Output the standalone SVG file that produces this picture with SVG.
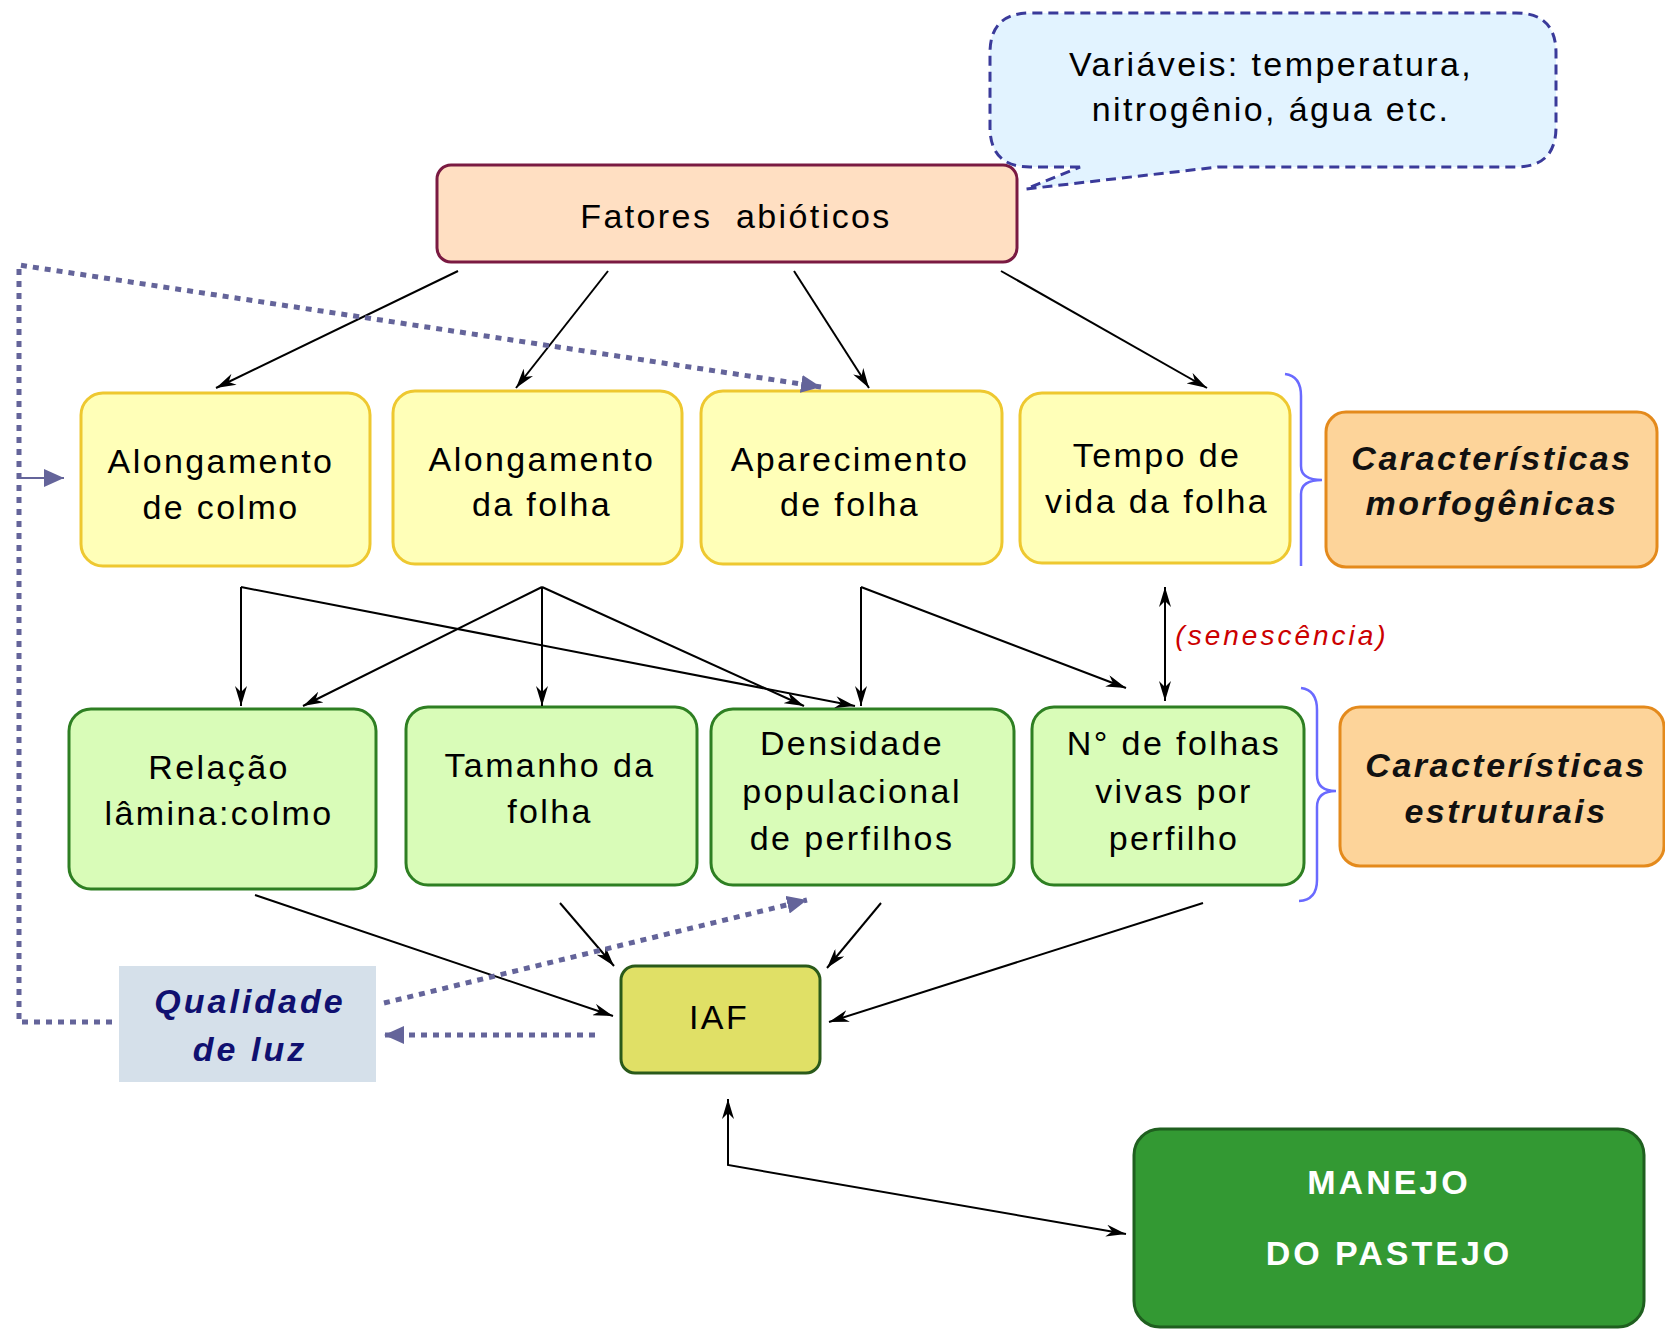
<svg xmlns="http://www.w3.org/2000/svg" width="1665" height="1332" viewBox="0 0 1665 1332">
<defs>
<style>
text{font-family:"Liberation Sans",Arial,sans-serif;text-anchor:middle;}
.t{font-size:34px;letter-spacing:2.4px;fill:#000;}
.bi{font-size:34px;font-weight:bold;font-style:italic;letter-spacing:2.5px;fill:#111;}
.q{font-size:34px;font-weight:bold;font-style:italic;letter-spacing:3px;fill:#101070;}
.m{font-size:34px;font-weight:bold;letter-spacing:3px;fill:#fff;}
.sen{font-size:28px;font-style:italic;letter-spacing:3px;fill:#cc0000;}
.yel{fill:#ffffb8;stroke:#eec830;stroke-width:3;}
.grn{fill:#d9fcb8;stroke:#2e7f22;stroke-width:3;}
.org{fill:#fdd49a;stroke:#e48a1c;stroke-width:3;}
.ln{stroke:#000;stroke-width:2;fill:none;}
.dot{stroke:#64649a;stroke-width:5;fill:none;stroke-dasharray:6 6;}
.brace{stroke:#6a6aff;stroke-width:2.5;fill:none;}
</style>
<marker id="ah" markerUnits="userSpaceOnUse" viewBox="0 0 20 12" markerWidth="20" markerHeight="12" refX="20" refY="6" orient="auto-start-reverse">
<path d="M0,0 L20,6 L0,12 L6,6 z" fill="#000"/>
</marker>
<marker id="dh" markerUnits="userSpaceOnUse" viewBox="0 0 20 18" markerWidth="20" markerHeight="18" refX="20" refY="9" orient="auto">
<path d="M0,0 L20,9 L0,18 z" fill="#64649a"/>
</marker>
</defs>
<rect width="1665" height="1332" fill="#fff"/>

<g id="callout">
<path d="M1080,167 L1030,167 Q990,167 990,127 L990,53 Q990,13 1030,13 L1516,13 Q1556,13 1556,53 L1556,127 Q1556,167 1516,167 L1218,167 L1026,189 Z" fill="#e2f3ff" stroke="#3a3a9a" stroke-width="3" stroke-dasharray="10 6"/>
<text class="t" x="1271" y="76">Variáveis: temperatura,</text>
<text class="t" x="1271" y="121">nitrogênio, água etc.</text>
</g>

<g id="fatores">
<rect x="437" y="165" width="580" height="97" rx="14" fill="#ffdfc2" stroke="#7a1a42" stroke-width="3"/>
<text class="t" x="736" y="228" xml:space="preserve">Fatores  abióticos</text>
</g>

<g id="alongamento-colmo">
<rect class="yel" x="81" y="393" width="289" height="173" rx="22"/>
<text class="t" x="221" y="473">Alongamento</text>
<text class="t" x="221" y="519">de colmo</text>
</g>
<g id="alongamento-folha">
<rect class="yel" x="393" y="391" width="289" height="173" rx="22"/>
<text class="t" x="542" y="471">Alongamento</text>
<text class="t" x="542" y="516">da folha</text>
</g>
<g id="aparecimento-folha">
<rect class="yel" x="701" y="391" width="301" height="173" rx="22"/>
<text class="t" x="850" y="471">Aparecimento</text>
<text class="t" x="850" y="516">de folha</text>
</g>
<g id="tempo-vida">
<rect class="yel" x="1020" y="393" width="270" height="170" rx="22"/>
<text class="t" x="1157" y="467">Tempo de</text>
<text class="t" x="1157" y="513">vida da folha</text>
</g>
<g id="morfogenicas">
<rect class="org" x="1326" y="412" width="331" height="155" rx="20"/>
<text class="bi" x="1492" y="470">Características</text>
<text class="bi" x="1492" y="515">morfogênicas</text>
</g>

<g id="relacao">
<rect class="grn" x="69" y="709" width="307" height="180" rx="22"/>
<text class="t" x="219" y="779">Relação</text>
<text class="t" x="219" y="825">lâmina:colmo</text>
</g>
<g id="tamanho">
<rect class="grn" x="406" y="707" width="291" height="178" rx="22"/>
<text class="t" x="550" y="777">Tamanho da</text>
<text class="t" x="550" y="823">folha</text>
</g>
<g id="densidade">
<rect class="grn" x="711" y="709" width="303" height="176" rx="22"/>
<text class="t" x="852" y="755">Densidade</text>
<text class="t" x="852" y="803">populacional</text>
<text class="t" x="852" y="850">de perfilhos</text>
</g>
<g id="nfolhas">
<rect class="grn" x="1032" y="707" width="272" height="178" rx="22"/>
<text class="t" x="1174" y="755">N° de folhas</text>
<text class="t" x="1174" y="803">vivas por</text>
<text class="t" x="1174" y="850">perfilho</text>
</g>
<g id="estruturais">
<rect class="org" x="1340" y="707" width="324" height="159" rx="20"/>
<text class="bi" x="1506" y="777">Características</text>
<text class="bi" x="1506" y="823">estruturais</text>
</g>

<g id="qualidade">
<rect x="119" y="966" width="257" height="116" fill="#d5e0ea"/>
<text class="q" x="250" y="1013">Qualidade</text>
<text class="q" x="250" y="1061">de luz</text>
</g>
<g id="iaf">
<rect x="621" y="966" width="199" height="107" rx="14" fill="#e0e066" stroke="#2a5a1a" stroke-width="3"/>
<text class="t" x="719" y="1029">IAF</text>
</g>
<g id="manejo">
<rect x="1134" y="1129" width="510" height="198" rx="26" fill="#339933" stroke="#1f5f1f" stroke-width="3"/>
<text class="m" x="1389" y="1194">MANEJO</text>
<text class="m" x="1389" y="1265">DO PASTEJO</text>
</g>

<g id="braces">
<path class="brace" d="M1285,374 Q1301,376 1301,396 L1301,466 Q1301,480 1322,480 Q1301,480 1301,494 L1301,566"/>
<path class="brace" d="M1301,688 Q1317,690 1317,710 L1317,775 Q1317,791 1336,791 Q1317,791 1317,807 L1317,880 Q1317,900 1299,901"/>
</g>

<g id="connectors">
<line class="ln" x1="458" y1="271" x2="216" y2="388" marker-end="url(#ah)"/>
<line class="ln" x1="608" y1="271" x2="516" y2="388" marker-end="url(#ah)"/>
<line class="ln" x1="794" y1="271" x2="869" y2="388" marker-end="url(#ah)"/>
<line class="ln" x1="1001" y1="271" x2="1207" y2="388" marker-end="url(#ah)"/>

<line class="ln" x1="241" y1="587" x2="241" y2="706" marker-end="url(#ah)"/>
<line class="ln" x1="241" y1="587" x2="855" y2="706" marker-end="url(#ah)"/>
<line class="ln" x1="542" y1="587" x2="303" y2="706" marker-end="url(#ah)"/>
<line class="ln" x1="542" y1="587" x2="542" y2="706" marker-end="url(#ah)"/>
<line class="ln" x1="542" y1="587" x2="804" y2="706" marker-end="url(#ah)"/>
<line class="ln" x1="861" y1="587" x2="861" y2="706" marker-end="url(#ah)"/>
<line class="ln" x1="861" y1="587" x2="1126" y2="688" marker-end="url(#ah)"/>

<line class="ln" x1="1165" y1="587" x2="1165" y2="701" marker-start="url(#ah)" marker-end="url(#ah)"/>
<text class="sen" x="1282" y="645">(senescência)</text>

<line class="ln" x1="255" y1="895" x2="613" y2="1016" marker-end="url(#ah)"/>
<line class="ln" x1="560" y1="903" x2="614" y2="966" marker-end="url(#ah)"/>
<line class="ln" x1="881" y1="903" x2="827" y2="968" marker-end="url(#ah)"/>
<line class="ln" x1="1203" y1="903" x2="829" y2="1022" marker-end="url(#ah)"/>

<polyline class="ln" points="728,1099 728,1165 1126,1234" marker-start="url(#ah)" marker-end="url(#ah)"/>

<polyline class="dot" points="112,1022 19,1022 19,265 821,387" marker-end="url(#dh)"/>
<line x1="19" y1="478" x2="64" y2="478" stroke="#64649a" stroke-width="2" marker-end="url(#dh)"/>
<line class="dot" x1="384" y1="1003" x2="807" y2="900" marker-end="url(#dh)"/>
<line class="dot" x1="595" y1="1035" x2="384" y2="1035" marker-end="url(#dh)"/>
</g>
</svg>
